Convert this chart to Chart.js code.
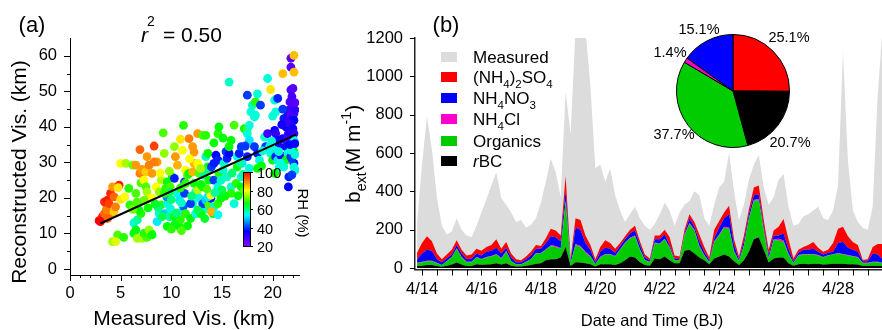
<!DOCTYPE html>
<html>
<head>
<meta charset="utf-8">
<script src="https://cdn.jsdelivr.net/npm/chart.js@4.4.0/dist/chart.umd.min.js"></script>
<style>
  html, body { margin: 0; padding: 0; background: #fff; }
  #wrap { position: relative; width: 882px; height: 330px; overflow: hidden; }
  .box { position: absolute; }
</style>
</head>
<body>
<div id="wrap">
  <div class="box" style="left:0;top:0;width:330px;height:330px"><canvas id="scatter"></canvas></div>
  <div class="box" style="left:330px;top:0;width:552px;height:330px"><canvas id="bext"></canvas></div>
  <div class="box" style="left:675px;top:33px;width:116px;height:116px"><canvas id="pie"></canvas></div>
</div>
<script>
// ---- panel (a): measured vs reconstructed visibility, coloured by RH ----
const visMeasured = [2.87,3.2,3.4,3.6,3.4,3.7,4.0,3.85,4.35,4.2,4.85,4.75,4.0,4.35,4.5,3.7,3.0,5.0,5.4,5.0,5.5,6.2,6.5,5.8,4.7,5.3,4.2,4.5,6.3,6.65,
  6.5,6.3,7.0,6.8,6.65,7.1,7.6,7.3,8.0,7.8,8.1,7.0,6.9,7.1,6.9,6.5,7.5,7.6,7.8,7.3,7.5,7.6,7.8,8.1,8.1,8.3,8.6,8.3,8.5,8.8,
  9.0,9.0,9.2,9.3,9.6,9.45,8.8,8.6,9.3,9.6,9.55,9.9,9.8,9.1,9.9,10.1,10.3,10.4,10.6,10.3,10.6,10.8,10.3,10.4,10.8,10.9,11.1,11.2,11.3,11.3,
  11.2,11.1,11.4,11.6,11.75,11.4,11.4,11.6,11.9,12.1,12.4,11.9,11.75,12.1,12.25,12.1,12.25,12.6,12.6,12.75,12.25,12.4,12.6,12.75,13.1,13.4,13.2,13.4,13.6,13.6,
  13.7,13.1,13.2,13.1,13.4,12.9,13.7,13.9,13.6,14.1,14.2,13.95,13.9,13.7,13.95,14.2,14.4,14.6,14.2,14.6,14.7,14.6,14.6,14.6,14.9,14.7,14.9,15.1,15.2,15.4,
  15.5,15.7,15.7,15.5,15.9,15.9,15.7,15.9,16.2,16.4,16.5,16.5,16.7,16.9,16.9,16.9,17.0,17.2,17.5,17.5,17.7,17.5,17.85,18.0,18.2,17.7,17.5,17.7,18.3,18.5,
  18.3,18.8,18.2,18.5,18.7,18.5,19.2,19.3,19.5,19.8,19.5,19.7,19.8,20.0,20.2,20.3,20.5,20.2,20.3,20.5,20.65,20.2,20.3,20.5,20.65,20.2,20.8,20.98,21.0,21.1,
  21.3,21.5,21.3,21.5,21.3,21.1,21.55,21.6,21.8,21.8,22.1,22.1,21.8,22.0,21.7,22.0,21.6,21.5,21.8,22.0,22.1,22.1,21.8,22.0,22.1,22.1,22.0,22.1,21.8,22.1,
  22.1,21.8,21.5,21.6,9.6,10.0,11.0,10.5,12.6,13.3,16.6,17.2,17.1,5.9,6.2,8.7,9.8,
  21.9,22.2,21.7,22.2,21.4,20.9,20.6,19.9,19.0,18.9,20.8,22.2,21.9,22.2,21.9,22.2,21.0,20.0,
  15.3,15.0,14.3,13.5,12.9,12.0,11.0,10.9,10.0,9.3,8.4,7.7,7.3,6.6,16.0,16.8,17.3,15.1,14.2,16.2,12.9,11.8,10.9,9.8,8.9];
const visReconstructed = [13.6,14.7,15.6,16.8,18.9,19.4,21.3,18.4,20.3,23.1,23.6,22.9,15.6,16.1,17.5,14.2,13.3,19.6,20.3,29.7,29.7,29.2,21.3,22.7,9.6,8.9,7.7,7.7,13.0,13.8,
  11.0,10.0,15.6,16.6,8.6,8.6,8.9,10.0,10.0,11.0,9.6,24.2,26.9,28.0,33.6,29.2,27.3,31.6,29.2,25.0,23.1,21.7,19.9,26.9,19.9,34.6,30.1,30.1,23.1,21.7,
  18.0,25.0,38.3,32.5,24.5,22.7,15.6,13.3,15.6,18.4,20.3,17.0,14.7,14.7,23.1,25.9,34.4,31.6,29.2,25.5,21.3,19.4,14.7,12.8,11.9,13.8,16.1,17.7,24.5,21.3,
  40.4,33.4,27.8,26.4,26.9,24.1,15.6,12.1,14.2,18.4,15.6,18.4,36.7,34.4,32.9,27.3,29.7,38.1,29.7,26.9,24.1,21.7,22.2,19.9,37.6,37.6,26.4,31.6,32.5,28.7,
  25.0,23.1,16.6,18.3,19.4,15.6,18.0,19.9,20.3,15.6,17.5,16.1,20.8,27.8,28.7,29.7,32.0,30.6,25.0,38.1,40.0,23.1,18.4,15.2,19.9,26.9,25.0,27.8,29.7,33.0,
  31.1,32.5,52.6,25.9,23.1,36.2,34.4,21.3,18.4,24.1,28.7,31.6,32.5,34.4,25.9,23.1,29.7,39.5,39.5,38.1,40.4,48.9,44.2,46.1,42.8,36.2,31.6,28.3,47.0,49.3,
  43.3,46.1,34.4,32.5,30.6,28.3,37.1,34.4,53.6,50.5,38.1,34.4,32.5,30.6,47.5,44.2,48.0,39.0,38.1,36.2,34.4,33.4,31.6,30.6,28.7,26.9,32.0,36.7,55.0,42.3,
  40.0,36.2,34.4,32.5,30.6,28.7,23.1,25.9,59.3,56.8,60.1,55.4,50.4,50.8,47.0,45.6,44.7,43.3,43.3,42.3,43.7,41.8,40.8,39.5,38.1,36.2,34.4,33.0,31.6,29.7,
  28.7,33.4,37.6,38.5,12.0,11.2,10.8,15.8,16.6,14.2,20.6,22.0,26.6,18.0,16.8,17.2,21.6,
  31.0,32.2,35.0,35.3,41.2,40.6,33.0,36.0,33.2,29.0,29.7,27.8,26.5,44.8,48.5,46.8,45.0,43.0,
  20.5,22.2,21.5,22.5,23.8,20.5,18.6,22.8,19.5,21.3,18.3,17.2,19.3,18.8,27.0,29.8,34.6,36.8,35.5,40.5,28.3,31.0,36.5,27.5,27.0];
const visRH = [100,98,92,90,97,98,97,95,92,88,98,82,90,84,90,92,100,82,80,80,75,72,70,68,70,68,75,78,55,58,
  65,65,68,66,75,75,70,68,68,74,66,70,90,88,92,88,84,88,90,80,70,75,76,88,80,95,88,90,80,74,
  68,76,70,74,66,68,55,52,50,55,45,55,58,62,70,66,74,88,86,38,55,52,65,65,66,68,52,42,40,40,
  68,80,80,70,66,68,68,66,66,55,54,40,90,88,88,86,86,88,80,70,66,56,76,55,70,68,58,56,66,66,
  66,66,55,40,50,66,70,38,52,66,56,86,80,60,40,38,36,38,40,68,66,55,68,54,66,68,56,56,56,40,
  38,36,56,56,55,66,66,68,55,68,66,54,38,40,55,66,52,66,70,55,55,40,55,56,55,52,38,55,68,55,
  55,40,40,38,55,66,55,40,55,82,28,55,55,66,55,55,38,36,30,36,34,55,38,52,55,66,36,34,85,38,
  36,28,34,55,66,55,36,38,26,26,85,85,28,26,26,26,28,32,26,34,28,36,32,34,30,55,55,66,38,36,
  55,55,28,32,66,68,70,60,62,64,66,70,58,68,72,60,62,
  40,55,36,34,30,34,55,55,55,66,55,55,40,30,28,26,40,55,
  66,62,58,70,66,60,56,68,60,68,64,66,72,70,60,58,40,66,66,70,75,80,82,74,80];
const fitX = [3.0, 22.3];
const fitY = [12.8, 37.8];
const visXTicks = [0, 5, 10, 15, 20];
const visYTicks = [0, 10, 20, 30, 40, 50, 60];
const rhTicks = [20, 40, 60, 80, 100];

// ---- panel (b): extinction time series, 4-hourly from 4/13 20:00 (BJ) ----
const startDay = 13 + 20 / 24;
const stepHours = 4;
const measured = [240,540,790,620,370,220,175,190,260,200,
  170,160,220,290,360,430,500,365,330,290,
  240,250,210,225,260,340,450,570,500,370,
  920,700,1250,1300,1250,950,520,540,450,520,
  380,300,240,280,320,260,220,200,230,280,
  340,300,220,290,330,350,400,380,260,220,
  330,420,450,600,400,250,330,460,540,590,
  420,330,370,460,490,320,220,230,270,280,
  300,320,260,250,300,430,1130,560,300,240,
  210,200,320,900,1250];
const rBC = [10,12,15,15,10,7,12,18,28,18,
  10,10,20,17,18,20,25,18,25,12,
  8,8,12,15,22,25,40,45,45,55,
  110,10,30,28,25,20,8,20,20,20,
  15,25,40,60,55,30,15,12,50,45,
  60,40,25,25,90,95,75,55,40,20,
  50,60,70,60,35,15,40,85,150,160,
  95,28,50,55,55,25,12,20,22,20,
  22,22,18,20,22,22,22,20,20,18,
  10,10,12,12,10];
const organics = [15,18,20,20,15,8,23,37,72,37,
  20,20,35,28,37,40,45,32,60,23,
  10,10,18,30,53,50,55,70,65,45,
  235,15,90,82,55,40,12,35,50,50,
  45,70,90,95,110,65,25,18,80,80,
  90,65,15,15,80,135,120,55,25,10,
  85,110,140,145,50,20,75,170,200,195,
  100,22,95,90,80,45,13,45,48,50,
  48,43,37,45,48,53,48,45,40,37,
  15,15,18,18,15];
const nh4cl = [2,2,3,3,2,1,2,2,3,2,
  2,2,2,2,2,3,3,2,3,2,
  1,1,2,2,3,3,3,4,4,3,
  5,1,5,5,4,3,1,3,3,3,
  2,3,3,3,4,3,2,2,3,3,
  3,3,2,1,3,5,4,4,3,1,
  5,5,5,5,4,2,3,4,5,5,
  4,3,4,8,8,4,2,3,3,3,
  3,3,2,2,2,3,3,3,3,2,
  2,2,3,3,2];
const nh4no3 = [18,43,57,52,18,14,13,13,17,18,
  13,18,18,18,28,27,32,23,17,18,
  11,11,13,18,22,22,32,46,46,37,
  50,9,85,85,46,32,9,27,32,27,
  18,17,17,22,26,22,13,8,17,22,
  22,12,8,4,7,25,16,26,17,9,
  15,35,45,70,31,8,22,21,25,25,
  16,17,21,17,37,26,8,12,22,22,
  27,17,13,13,13,52,62,37,32,28,
  8,8,42,37,18];
const nh42so4 = [35,55,70,50,30,15,20,25,25,20,
  20,20,25,25,25,30,45,25,30,20,
  15,10,15,20,20,15,25,40,35,30,
  80,15,50,50,40,25,15,25,40,30,
  20,15,15,20,25,20,15,10,20,20,
  25,40,15,15,20,20,25,35,25,15,
  45,35,30,45,30,15,30,25,40,45,
  35,25,25,45,75,50,15,15,15,25,
  35,20,15,15,45,75,80,60,40,35,
  7,10,35,55,80];
const dateTicks = [14, 16, 18, 20, 22, 24, 26, 28];
const bextTicks = [0, 200, 400, 600, 800, 1000, 1200];
const pieShares = [25.1, 20.7, 37.7, 1.4, 15.1];   // SO4, rBC, Org, Cl, NO3

const FONT = '"Liberation Sans", Arial, sans-serif';
const C_SO4 = '#ff0000', C_NO3 = '#0000ff', C_CL = '#ff00cc', C_ORG = '#00cc00', C_BC = '#000000', C_MEAS = '#dcdcdc';

// rainbow colour map for RH (20 violet ... 100 red)
function rhColor(rh) {
  const stops = [[20, 272], [36, 240], [52, 185], [66, 120], [80, 60], [100, 0]];
  let h = stops[0][1];
  for (let k = 1; k < stops.length; k++) {
    if (rh <= stops[k][0]) {
      const f = (rh - stops[k - 1][0]) / (stops[k][0] - stops[k - 1][0]);
      h = stops[k - 1][1] + f * (stops[k][1] - stops[k - 1][1]);
      break;
    }
    h = stops[k][1];
  }
  return 'hsl(' + h.toFixed(1) + ',100%,50%)';
}

// draws text made of normal / subscript / superscript / italic parts
function drawRich(ctx, parts, x, y, size) {
  let cx = x;
  parts.forEach(function(p) {
    let fs = size, dy = 0, style = '';
    if (p[1] === 'sub') { fs = size * 0.68; dy = size * 0.3; }
    if (p[1] === 'sup') { fs = size * 0.68; dy = -size * 0.45; }
    if (p[1] === 'i') style = 'italic ';
    ctx.font = style + fs + 'px ' + FONT;
    ctx.fillText(p[0], cx, y + dy);
    cx += ctx.measureText(p[0]).width;
  });
}

function tick(ctx, x1, y1, x2, y2) {
  ctx.beginPath(); ctx.moveTo(x1, y1); ctx.lineTo(x2, y2); ctx.stroke();
}

function fixedTicks(list) {
  return function(s) { s.ticks = list.map(function(v) { return { value: v }; }); };
}

const scatterDecor = {
  id: 'scatterDecor',
  afterDraw(chart) {
    const ctx = chart.ctx, xs = chart.scales.x, ys = chart.scales.y, a = chart.chartArea;
    ctx.save();
    ctx.strokeStyle = '#000'; ctx.lineWidth = 1;
    for (let v = 0; v <= 22; v++) {
      const px = Math.round(xs.getPixelForValue(v)) + 0.5;
      tick(ctx, px, a.bottom, px, a.bottom + (v % 5 === 0 ? 6 : 3));
    }
    for (let v = 0; v <= 60; v += 5) {
      const py = Math.round(ys.getPixelForValue(v)) + 0.5;
      tick(ctx, a.left, py, a.left - (v % 10 === 0 ? 6 : 3), py);
    }
    // colour bar
    const bx = 243, bw = 7, top = 172, bot = 246;
    const g = ctx.createLinearGradient(0, bot, 0, top);
    for (let r = 20; r <= 100; r += 2) g.addColorStop((r - 20) / 80, rhColor(r));
    ctx.fillStyle = g; ctx.fillRect(bx, top, bw, bot - top);
    ctx.strokeRect(bx + 0.5, top + 0.5, bw, bot - top);
    ctx.fillStyle = '#000';
    ctx.font = '14.5px ' + FONT; ctx.textAlign = 'left'; ctx.textBaseline = 'middle';
    rhTicks.forEach(function(r) {
      const py = Math.round(bot - (r - 20) / 80 * (bot - top)) + 0.5;
      tick(ctx, bx + bw, py, bx + bw + 3, py);
      ctx.fillText(String(r), 257, py + 1);
    });
    ctx.save();
    ctx.translate(302, 213); ctx.rotate(Math.PI / 2);
    ctx.textAlign = 'center'; ctx.font = '15px ' + FONT;
    ctx.fillText('RH (%)', 0, 0);
    ctx.restore();
    // titles
    ctx.textAlign = 'center'; ctx.textBaseline = 'middle';
    ctx.font = '22px ' + FONT; ctx.fillText('(a)', 32, 26);
    ctx.font = '21px ' + FONT; ctx.fillText('Measured Vis. (km)', 184, 319);
    ctx.save();
    ctx.translate(20, 172); ctx.rotate(-Math.PI / 2);
    ctx.fillText('Reconstructed Vis. (km)', 0, 0);
    ctx.restore();
    ctx.textAlign = 'left'; ctx.textBaseline = 'alphabetic';
    ctx.font = 'italic 21px ' + FONT; ctx.fillText('r', 141, 42);
    ctx.font = '14px ' + FONT; ctx.fillText('2', 147, 26);
    ctx.font = '21px ' + FONT; ctx.fillText('= 0.50', 163, 42);
    ctx.restore();
  }
};

const legendItems = [
  { color: C_MEAS, parts: [['Measured', 'n']] },
  { color: C_SO4, parts: [['(NH', 'n'], ['4', 'sub'], [')', 'n'], ['2', 'sub'], ['SO', 'n'], ['4', 'sub']] },
  { color: C_NO3, parts: [['NH', 'n'], ['4', 'sub'], ['NO', 'n'], ['3', 'sub']] },
  { color: C_CL, parts: [['NH', 'n'], ['4', 'sub'], ['Cl', 'n']] },
  { color: C_ORG, parts: [['Organics', 'n']] },
  { color: C_BC, parts: [['r', 'i'], ['BC', 'n']] }
];
const legendRows = [57, 77, 98, 119, 141, 161];
// label anchor points around the inset pie (canvas px of panel b)
const pieLabelPos = [[459, 38], [460, 143], [344, 135], [340, 53], [369, 30]];

const bextDecor = {
  id: 'bextDecor',
  afterDraw(chart) {
    const ctx = chart.ctx, xs = chart.scales.x, ys = chart.scales.y, a = chart.chartArea;
    ctx.save();
    ctx.strokeStyle = '#000'; ctx.lineWidth = 1;
    for (let d = 14; d <= 29.5; d += 0.5) {
      const px = Math.round(xs.getPixelForValue(d)) + 0.5;
      tick(ctx, px, a.bottom, px, a.bottom + 6);
    }
    bextTicks.forEach(function(v) {
      const py = Math.round(ys.getPixelForValue(v)) + 0.5;
      tick(ctx, a.left, py, a.left - 5, py);
    });
    ctx.fillStyle = '#000';
    ctx.textAlign = 'center'; ctx.textBaseline = 'middle';
    ctx.font = '22px ' + FONT; ctx.fillText('(b)', 116, 26);
    ctx.font = '16.5px ' + FONT; ctx.fillText('Date and Time (BJ)', 322, 321);
    // legend
    ctx.textAlign = 'left'; ctx.textBaseline = 'alphabetic';
    legendItems.forEach(function(it, k) {
      const cy = legendRows[k];
      ctx.fillStyle = it.color; ctx.fillRect(111, cy - 5, 16, 10);
      ctx.fillStyle = '#000';
      drawRich(ctx, it.parts, 143, cy + 6, 17);
    });
    // y title
    ctx.save();
    ctx.translate(30, 203); ctx.rotate(-Math.PI / 2);
    drawRich(ctx, [['b', 'n'], ['ext', 'sub'], ['(M m', 'n'], ['-1', 'sup'], [')', 'n']], 0, 0, 21);
    ctx.restore();
    // pie labels
    ctx.textAlign = 'center'; ctx.textBaseline = 'middle';
    ctx.font = '14.5px ' + FONT;
    pieShares.forEach(function(v, k) {
      ctx.fillText(v.toFixed(1) + '%', pieLabelPos[k][0], pieLabelPos[k][1]);
    });
    ctx.restore();
  }
};

const tickFont = { family: FONT, size: 16.5 };

new Chart(document.getElementById('scatter'), {
  type: 'scatter',
  data: {
    datasets: [
      {
        type: 'line',
        data: fitX.map(function(x, i) { return { x: x, y: fitY[i] }; }),
        borderColor: '#000', borderWidth: 2, pointRadius: 0, showLine: true, order: 0
      },
      {
        data: visMeasured.map(function(x, i) { return { x: x, y: visReconstructed[i] }; }),
        pointRadius: 4.4,
        pointBackgroundColor: visRH.map(rhColor),
        pointBorderWidth: 0,
        order: 1
      }
    ]
  },
  options: {
    responsive: true, maintainAspectRatio: false, animation: false, events: [],
    layout: { padding: { left: 0, right: 31, top: 38, bottom: 0 } },
    plugins: { legend: { display: false }, tooltip: { enabled: false } },
    scales: {
      x: {
        type: 'linear', min: 0, max: 22.6,
        afterBuildTicks: fixedTicks(visXTicks),
        afterFit: function(s) { s.height = 55; },
        grid: { display: false, drawTicks: false },
        border: { display: true, color: '#000', width: 1 },
        ticks: { padding: 9, color: '#000', font: tickFont, maxRotation: 0, autoSkip: false,
                 callback: function(v) { return String(v); } }
      },
      y: {
        type: 'linear', min: -1.7, max: 65,
        afterBuildTicks: fixedTicks(visYTicks),
        afterFit: function(s) { s.width = 70; },
        grid: { display: false, drawTicks: false },
        border: { display: true, color: '#000', width: 1 },
        ticks: { padding: 13, color: '#000', font: tickFont, autoSkip: false,
                 callback: function(v) { return String(v); } }
      }
    }
  },
  plugins: [scatterDecor]
});

const times = measured.map(function(_, i) { return startDay + i * stepHours / 24; });
function pts(arr) { return arr.map(function(v, i) { return { x: times[i], y: v }; }); }
function area(label, arr, color, fill, stack, order) {
  return {
    label: label, data: pts(arr), backgroundColor: color, borderColor: 'rgba(0,0,0,0)',
    borderWidth: 0, pointRadius: 0, fill: fill, stack: stack, order: order, tension: 0
  };
}

new Chart(document.getElementById('bext'), {
  type: 'line',
  data: {
    datasets: [
      area('Measured', measured, C_MEAS, 'origin', 'meas', 1),
      area('rBC', rBC, C_BC, 'origin', 'comp', 0),
      area('Organics', organics, C_ORG, '-1', 'comp', 0),
      area('NH4Cl', nh4cl, C_CL, '-1', 'comp', 0),
      area('NH4NO3', nh4no3, C_NO3, '-1', 'comp', 0),
      area('(NH4)2SO4', nh42so4, C_SO4, '-1', 'comp', 0)
    ]
  },
  options: {
    responsive: true, maintainAspectRatio: false, animation: false, events: [],
    layout: { padding: { left: 0, right: 0, top: 38, bottom: 0 } },
    plugins: { legend: { display: false }, tooltip: { enabled: false } },
    scales: {
      x: {
        type: 'linear', min: 13.764, max: 29.48,
        afterBuildTicks: fixedTicks(dateTicks),
        afterFit: function(s) { s.height = 60.5; },
        grid: { display: false, drawTicks: false },
        border: { display: true, color: '#222', width: 1.5 },
        ticks: {
          autoSkip: false, maxRotation: 0, padding: 10,
          color: '#000', font: tickFont,
          callback: function(v) { return '4/' + v; }
        }
      },
      y: {
        type: 'linear', min: -8, max: 1200, stacked: true,
        afterBuildTicks: fixedTicks(bextTicks),
        afterFit: function(s) { s.width = 85; },
        grid: { display: false, drawTicks: false },
        border: { display: true, color: '#222', width: 1.5 },
        ticks: { padding: 12, color: '#000', font: tickFont, autoSkip: false,
                 callback: function(v) { return String(v); } }
      }
    }
  },
  plugins: [bextDecor]
});

new Chart(document.getElementById('pie'), {
  type: 'pie',
  data: {
    labels: ['(NH4)2SO4', 'rBC', 'Organics', 'NH4Cl', 'NH4NO3'],
    datasets: [{
      data: pieShares,
      backgroundColor: [C_SO4, C_BC, C_ORG, C_CL, C_NO3],
      borderColor: '#000', borderWidth: 1
    }]
  },
  options: {
    responsive: true, maintainAspectRatio: false, animation: false, events: [],
    layout: { padding: 1 },
    plugins: { legend: { display: false }, tooltip: { enabled: false } }
  }
});
</script>
</body>
</html>
